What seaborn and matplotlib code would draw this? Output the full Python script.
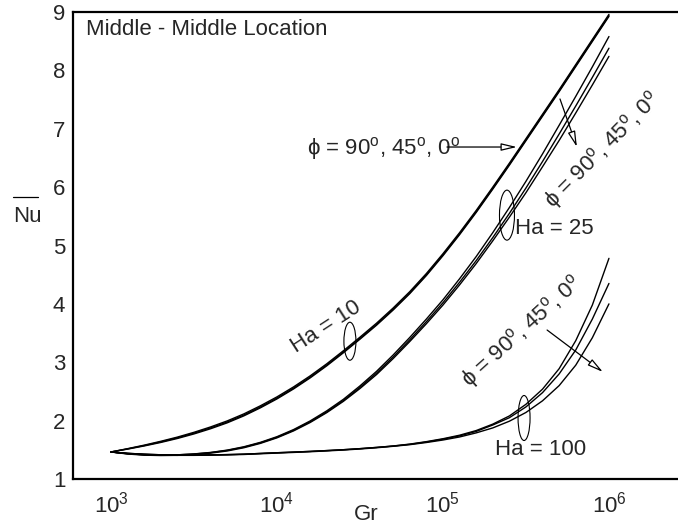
import matplotlib
matplotlib.use("Agg")
import matplotlib.pyplot as plt
import seaborn as sns
import pandas as pd
from matplotlib.patches import Ellipse
from matplotlib.transforms import ScaledTranslation
from matplotlib.lines import Line2D

# ---------------- data ----------------
gr = [1000, 1259, 1585, 1995, 2512, 3162, 3981, 5012, 6310, 7943,
      10000, 12589, 15849, 19953, 25119, 31623, 39811, 50119, 63096, 79433,
      100000, 125893, 158489, 199526, 251189, 316228, 398107, 501187, 630957, 794328,
      1000000]

ha10_phi90 = [1.463, 1.52, 1.58, 1.646, 1.718, 1.80, 1.892, 1.995, 2.115, 2.254,
              2.407, 2.578, 2.767, 2.974, 3.197, 3.43, 3.67, 3.93, 4.21, 4.52,
              4.86, 5.22, 5.60, 6.00, 6.41, 6.83, 7.25, 7.67, 8.10, 8.53, 8.96]
ha10_phi45 = [1.463, 1.516, 1.573, 1.636, 1.706, 1.786, 1.876, 1.977, 2.096, 2.234,
              2.387, 2.558, 2.747, 2.954, 3.177, 3.41, 3.65, 3.91, 4.19, 4.50,
              4.84, 5.20, 5.58, 5.98, 6.39, 6.81, 7.23, 7.65, 8.08, 8.51, 8.94]
ha10_phi0 = [1.463, 1.512, 1.566, 1.626, 1.694, 1.772, 1.861, 1.962, 2.081, 2.219,
             2.372, 2.543, 2.732, 2.939, 3.162, 3.395, 3.635, 3.895, 4.175, 4.485,
             4.825, 5.185, 5.565, 5.965, 6.375, 6.795, 7.215, 7.635, 8.065, 8.495, 8.925]

ha25_phi90 = [1.463, 1.433, 1.415, 1.41, 1.414, 1.43, 1.455, 1.495, 1.552, 1.628,
              1.725, 1.847, 1.995, 2.168, 2.365, 2.595, 2.845, 3.125, 3.425, 3.74,
              4.07, 4.43, 4.81, 5.22, 5.65, 6.10, 6.57, 7.06, 7.555, 8.06, 8.58]
ha25_phi45 = [1.463, 1.433, 1.415, 1.41, 1.414, 1.428, 1.452, 1.49, 1.545, 1.62,
              1.715, 1.835, 1.98, 2.15, 2.345, 2.57, 2.815, 3.09, 3.385, 3.695,
              4.02, 4.37, 4.74, 5.135, 5.55, 5.985, 6.44, 6.91, 7.39, 7.88, 8.38]
ha25_phi0 = [1.463, 1.428, 1.408, 1.402, 1.405, 1.419, 1.443, 1.48, 1.535, 1.61,
             1.705, 1.824, 1.968, 2.137, 2.33, 2.55, 2.79, 3.063, 3.355, 3.66,
             3.98, 4.325, 4.69, 5.08, 5.485, 5.905, 6.35, 6.80, 7.27, 7.75, 8.24]

ha100_phi90 = [1.463, 1.44, 1.425, 1.415, 1.41, 1.41, 1.413, 1.418, 1.425, 1.438,
               1.45, 1.461, 1.473, 1.487, 1.502, 1.52, 1.541, 1.566, 1.598, 1.64,
               1.69, 1.75, 1.83, 1.94, 2.08, 2.28, 2.54, 2.89, 3.37, 3.98, 4.78]
ha100_phi45 = [1.463, 1.44, 1.425, 1.415, 1.41, 1.41, 1.413, 1.418, 1.425, 1.438,
               1.45, 1.461, 1.473, 1.487, 1.502, 1.52, 1.541, 1.564, 1.594, 1.634,
               1.682, 1.738, 1.815, 1.925, 2.05, 2.235, 2.48, 2.80, 3.21, 3.74, 4.35]
ha100_phi0 = [1.463, 1.437, 1.42, 1.41, 1.405, 1.405, 1.408, 1.413, 1.42, 1.432,
              1.444, 1.455, 1.467, 1.481, 1.496, 1.514, 1.535, 1.56, 1.588, 1.625,
              1.668, 1.72, 1.79, 1.875, 1.99, 2.14, 2.34, 2.60, 2.95, 3.42, 4.00]

x_ticks = [1e3, 1e4, 1e5, 1e6]
x_ticklabels = [r"$\mathregular{10^{3}}$", r"$\mathregular{10^{4}}$",
                r"$\mathregular{10^{5}}$", r"$\mathregular{10^{6}}$"]
y_ticks = [1, 2, 3, 4, 5, 6, 7, 8, 9]

title_text = "Middle - Middle Location"
phi_text = r"ϕ = 90$^{\mathregular{o}}$, 45$^{\mathregular{o}}$, 0$^{\mathregular{o}}$"
phi_text_rot = r"ϕ = 90$^{\mathregular{o}}$, 45$^{\mathregular{o}}$, 0$^{\mathregular{o}}$"

# ---------------- style ----------------
sns.set_style("white")
plt.rcParams["font.family"] = ["Liberation Sans", "DejaVu Sans"]
plt.rcParams["mathtext.fontset"] = "custom"
plt.rcParams["mathtext.rm"] = "Liberation Sans"
plt.rcParams["mathtext.it"] = "Liberation Sans:italic"
plt.rcParams["mathtext.bf"] = "Liberation Sans:bold"

FS = 16
W, H = 678, 526
fig = plt.figure(figsize=(W / 100, H / 100), dpi=100)
ax = fig.add_axes([73 / W, 47 / H, 605 / W, 467 / H])

series = {
    "ha10_90": ha10_phi90, "ha10_45": ha10_phi45, "ha10_0": ha10_phi0,
    "ha25_90": ha25_phi90, "ha25_45": ha25_phi45, "ha25_0": ha25_phi0,
    "ha100_90": ha100_phi90, "ha100_45": ha100_phi45, "ha100_0": ha100_phi0,
}
df = pd.concat([pd.DataFrame({"Gr": gr, "Nu": v, "curve": k}) for k, v in series.items()],
               ignore_index=True)
sns.lineplot(data=df, x="Gr", y="Nu", units="curve", estimator=None, color="black",
             lw=1.0, sort=False, ax=ax, legend=False)

ax.set_xscale("log")
ax.set_xlim(10 ** 2.771, 10 ** 6.416)
ax.set_ylim(1, 9)
ax.set_xticks(x_ticks)
ax.set_xticklabels(x_ticklabels, fontsize=FS)
ax.set_yticks(y_ticks)
ax.set_yticklabels([str(v) for v in y_ticks], fontsize=FS)
ax.minorticks_off()
ax.tick_params(axis="x", length=0, pad=9)
ax.tick_params(axis="y", length=0, pad=5.5)
ax.set_xlabel("")
ax.set_ylabel("")
for s in ["left", "bottom", "top"]:
    ax.spines[s].set_visible(True)
    ax.spines[s].set_color("black")
    ax.spines[s].set_linewidth(1.6)
ax.spines["right"].set_visible(False)

# axis labels
fig.text(366 / W, 1 - 515 / H, "Gr", ha="center", va="center", fontsize=FS)
fig.text(27 / W, 1 - 216 / H, "Nu", ha="center", va="center", fontsize=FS)
fig.add_artist(Line2D([13 / W, 38 / W], [1 - 197 / H, 1 - 197 / H], color="black",
                      lw=0.9, transform=fig.transFigure))

# title inside
ax.text(0.0215, 0.9615, title_text, transform=ax.transAxes, ha="left", va="center",
        fontsize=FS)

# curve labels
ax.text(1.97e4, 3.604, "Ha = 10", rotation=33, rotation_mode="anchor",
        ha="center", va="center", fontsize=FS)
ax.text(2.72e5, 5.283, "Ha = 25", ha="left", va="center", fontsize=FS)
ax.text(3.89e5, 1.497, "Ha = 100", ha="center", va="center", fontsize=FS)

ax.text(1.517e4, 6.670, phi_text, ha="left", va="center", fontsize=FS)
ax.text(9.2e5, 6.636, phi_text_rot, rotation=45, rotation_mode="anchor",
        ha="center", va="center", fontsize=FS)
ax.text(2.99e5, 3.518, phi_text_rot, rotation=42, rotation_mode="anchor",
        ha="center", va="center", fontsize=FS)

# arrows
arrow_kw = dict(arrowstyle="-|>,head_length=0.63,head_width=0.15", fc="white",
                ec="black", lw=0.9, shrinkA=0, shrinkB=0, mutation_scale=15)
ax.annotate("", xy=(2.79e5, 6.687), xytext=(1.057e5, 6.687), arrowprops=arrow_kw)
ax.annotate("", xy=(6.41e5, 6.687), xytext=(5.07e5, 7.51), arrowprops=arrow_kw)
ax.annotate("", xy=(9.2e5, 2.833), xytext=(4.24e5, 3.552), arrowprops=arrow_kw)

# ellipses grouping the curves
for (cx, cy, w, h) in [(2.75e4, 3.36, 0.12, 0.38),
                       (2.43e5, 5.52, 0.15, 0.50),
                       (3.08e5, 2.045, 0.12, 0.45)]:
    e = Ellipse((0, 0), width=w, height=h, fill=False, ec="black", lw=0.8,
                transform=fig.dpi_scale_trans + ScaledTranslation(cx, cy, ax.transData))
    ax.add_artist(e)

fig.savefig("out.png", dpi=100)
